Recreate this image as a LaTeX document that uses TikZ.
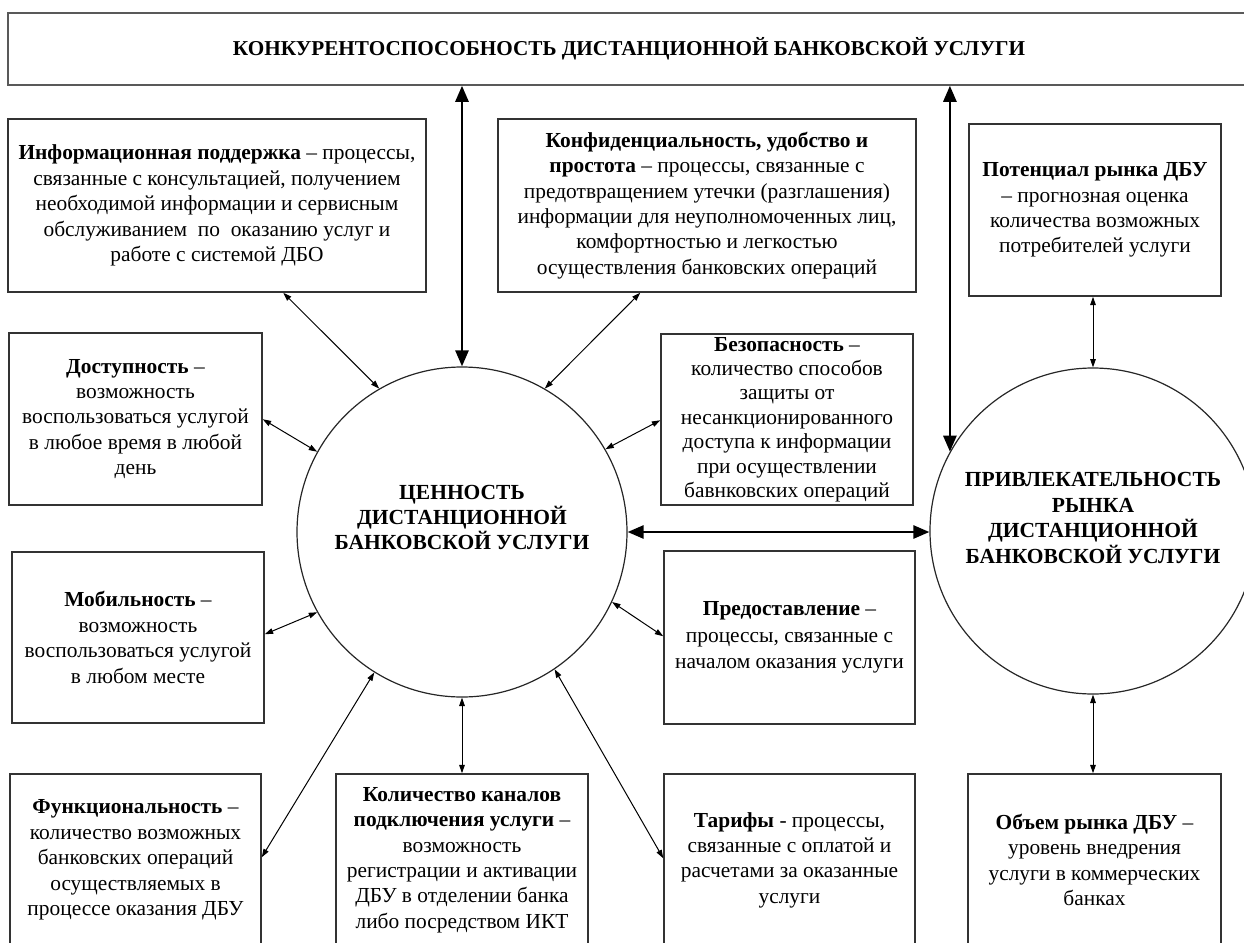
\documentclass[tikz,border=0pt]{standalone}
\usepackage{fontspec}
\setmainfont{Liberation Serif}
\usetikzlibrary{arrows.meta,calc}
\begin{document}
\begin{tikzpicture}[x=0.5pt,y=-0.5pt,
  box/.style={draw=black!80, line width=0.75pt, inner sep=0pt, align=center, font=\fontsize{10.7}{12.7}\selectfont},
  ring/.style={circle, draw=black!85, line width=0.6pt, inner sep=0pt},
  ringtext/.style={align=center, font=\bfseries\fontsize{10.75}{12.3}\selectfont},
  tarr/.style={{Triangle[length=4.2pt,width=2.8pt]}-{Triangle[length=4.2pt,width=2.8pt]}, line width=0.5pt},
  barr/.style={{Triangle[length=8pt,width=6.5pt]}-{Triangle[length=8pt,width=6.5pt]}, line width=1.3pt}]

\useasboundingbox (0,0) rectangle (1244,943);

\node[box, draw=black!65, minimum width=621pt, minimum height=36pt, font=\bfseries\fontsize{10.6}{13}\selectfont] (top) at (629,49) {КОНКУРЕНТОСПОСОБНОСТЬ ДИСТАНЦИОННОЙ БАНКОВСКОЙ УСЛУГИ};

\node[box, minimum width=209pt, minimum height=86.5pt] (info) at (217,205.5) {\textbf{Информационная поддержка} – процессы,\\ связанные с консультацией, получением\\ необходимой информации и сервисным\\ обслуживанием \ по \ оказанию услуг и\\ работе с системой ДБО};

\node[box, minimum width=209pt, minimum height=86.5pt] (conf) at (707,205.5) {\textbf{Конфиденциальность, удобство и}\\ \textbf{простота} – процессы, связанные с\\ предотвращением утечки (разглашения)\\ информации для неуполномоченных лиц,\\ комфортностью и легкостью\\ осуществления банковских операций};

\node[box, minimum width=126pt, minimum height=86pt] (pot) at (1095,210) {\textbf{Потенциал рынка ДБУ}\\ – прогнозная оценка\\ количества возможных\\ потребителей услуги};

\node[box, minimum width=126.5pt, minimum height=86pt] (dost) at (135.5,419) {\textbf{Доступность} –\\ возможность\\ воспользоваться услугой\\ в любое время в любой\\ день};

\node[box, minimum width=126pt, minimum height=85.5pt, font=\fontsize{10.7}{12.2}\selectfont] (bez) at (787,419.5) {\textbf{Безопасность} –\\ количество способов\\ защиты от\\ несанкционированного\\ доступа к информации\\ при осуществлении\\ бавнковских операций};

\node[box, minimum width=126pt, minimum height=85.5pt] (mob) at (138,637.5) {\textbf{Мобильность} –\\ возможность\\ воспользоваться услугой\\ в любом месте};

\node[box, minimum width=125.5pt, minimum height=86.5pt, font=\fontsize{10.7}{13.2}\selectfont] (pred) at (789.5,637.5) {\textbf{Предоставление} –\\ процессы, связанные с\\ началом оказания услуги};

\node[box, minimum width=125.5pt, minimum height=86pt] (func) at (135.5,860) {\textbf{Функциональность} –\\ количество возможных\\ банковских операций\\ осуществляемых в\\ процессе оказания ДБУ};

\node[box, minimum width=126pt, minimum height=86pt] (kol) at (462,860) {\textbf{Количество каналов}\\ \textbf{подключения услуги} –\\ возможность\\ регистрации и активации\\ ДБУ в отделении банка\\ либо посредством ИКТ};

\node[box, minimum width=125.5pt, minimum height=86pt] (tar) at (789.5,860) {\textbf{Тарифы} - процессы,\\ связанные с оплатой и\\ расчетами за оказанные\\ услуги};

\node[box, minimum width=126.5pt, minimum height=86pt] (obj) at (1094.5,860) {\textbf{Объем рынка ДБУ} –\\ уровень внедрения\\ услуги в коммерческих\\ банках};

\node[ring, minimum size=165pt, label={[ringtext, yshift=7.25pt]center:{ЦЕННОСТЬ\\ ДИСТАНЦИОННОЙ\\ БАНКОВСКОЙ УСЛУГИ}}] (ball) at (462,532) {};

\node[ring, minimum size=163pt, label={[ringtext, yshift=6.5pt, font=\bfseries\fontsize{10.75}{12.7}\selectfont]center:{ПРИВЛЕКАТЕЛЬНОСТЬ\\ РЫНКА\\ ДИСТАНЦИОННОЙ\\ БАНКОВСКОЙ УСЛУГИ}}] (attr) at (1093,531) {};

% thick connectors
\draw[barr] (ball.north) -- (ball.north |- top.south);
\draw[barr] (attr.151.7) -- (attr.151.7 |- top.south);
\draw[barr] (ball.east) -- (ball.east -| attr.west);

% thin connectors
\draw[tarr] (ball.120) -- ($(info.south west)+(276,0)$);
\draw[tarr] (ball.60) -- ($(conf.south west)+(143,0)$);
\draw[tarr] (ball.151.4) -- ($(dost.north east)+(0,87)$);
\draw[tarr] (ball.30.6) -- ($(bez.north west)+(0,87)$);
\draw[tarr] (ball.209.7) -- ($(mob.north east)+(0,83)$);
\draw[tarr] (ball.-25) -- ($(pred.north west)+(0,86)$);
\draw[tarr] (ball.238) -- ($(func.north east)+(0,84)$);
\draw[tarr] (ball.-56.7) -- ($(tar.north west)+(0,85)$);
\draw[tarr] (ball.south) -- (ball.south |- kol.north);
\draw[tarr] (attr.north) -- (attr.north |- pot.south);
\draw[tarr] (attr.south) -- (attr.south |- obj.north);
\end{tikzpicture}
\end{document}
